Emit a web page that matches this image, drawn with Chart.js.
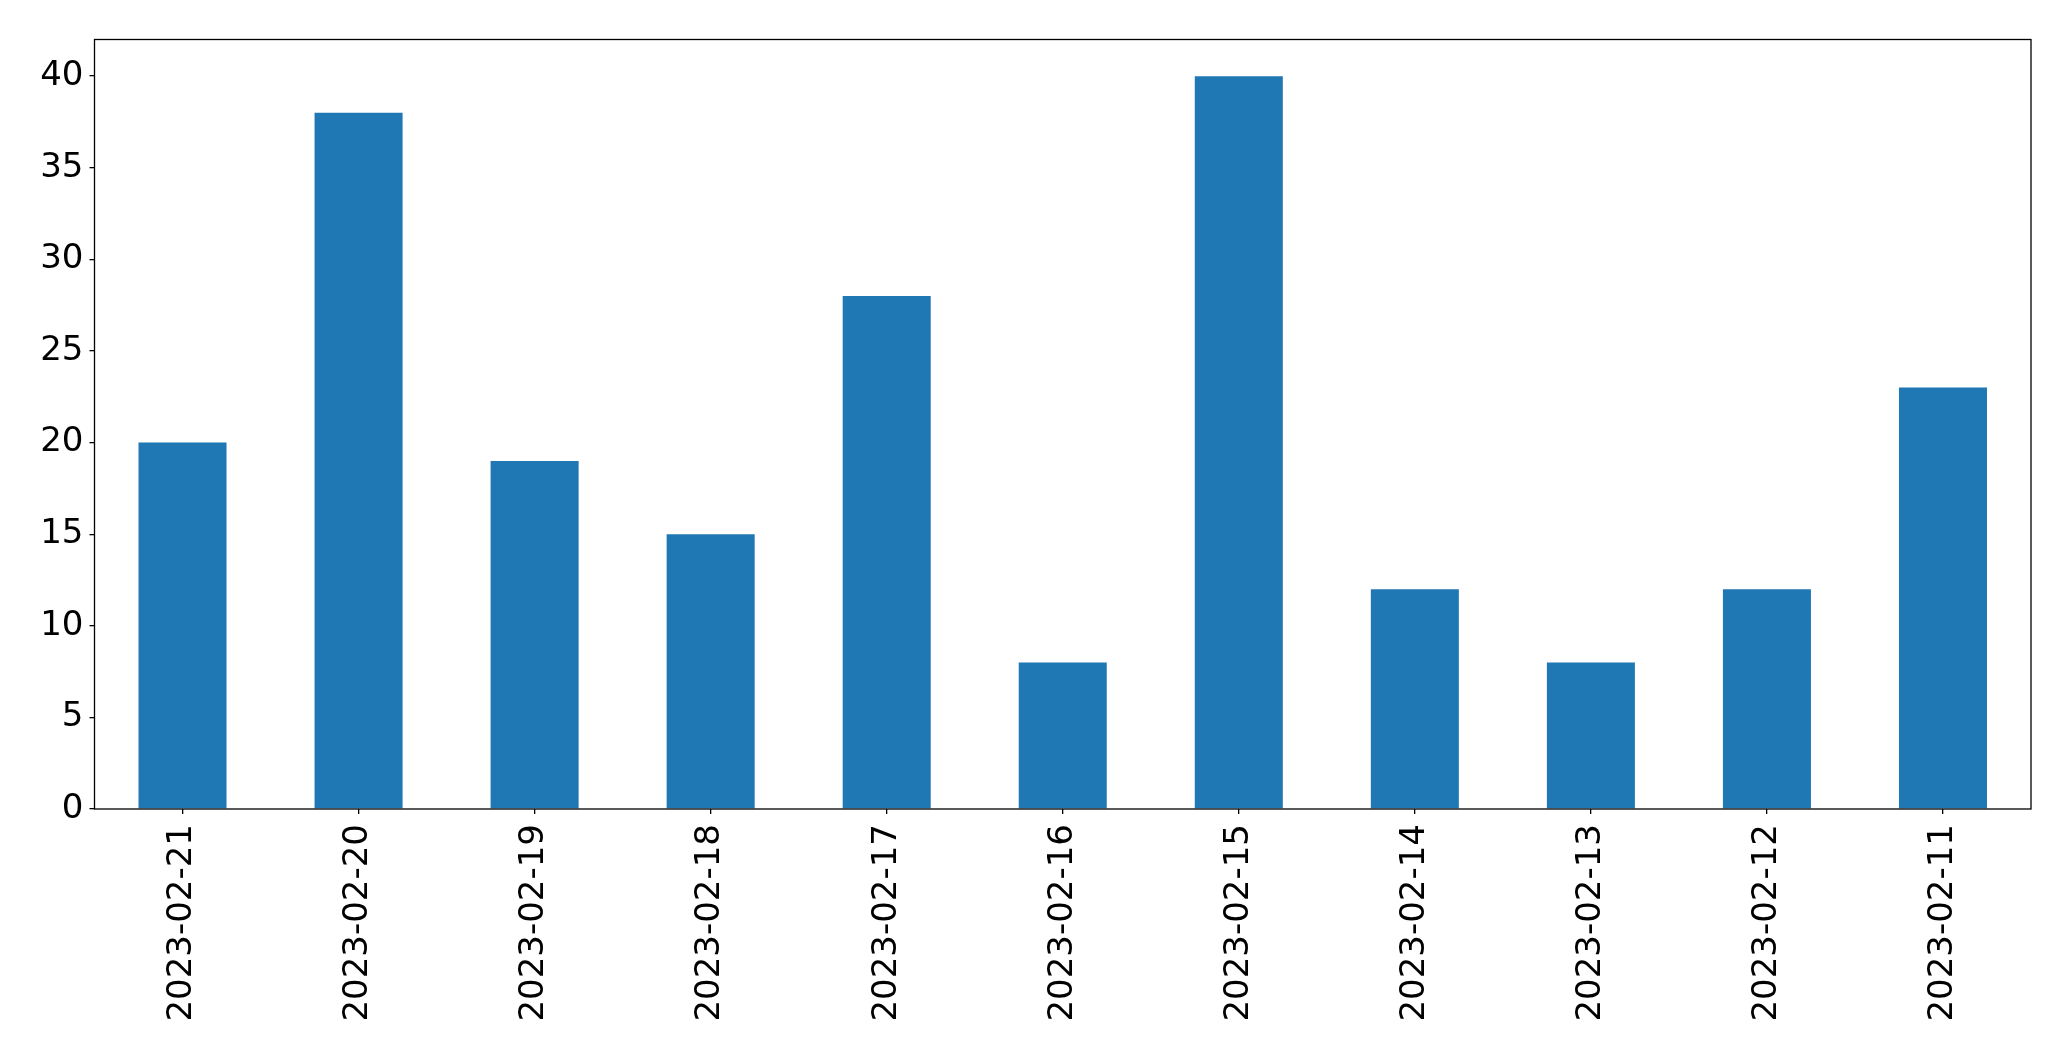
<!DOCTYPE html>
<html>
<head>
<meta charset="utf-8">
<script src="https://cdn.jsdelivr.net/npm/chart.js@4"></script>
<style>
html,body{margin:0;padding:0;background:#fff;}
#wrap{width:2071px;height:1061px;}
</style>
</head>
<body>
<div id="wrap"><canvas id="c" width="2071" height="1061"></canvas></div>
<script>
const categories = ["2023-02-21","2023-02-20","2023-02-19","2023-02-18","2023-02-17","2023-02-16","2023-02-15","2023-02-14","2023-02-13","2023-02-12","2023-02-11"];
const values = [20, 38, 19, 15, 28, 8, 40, 12, 8, 12, 23];
const yTicks = [0, 5, 10, 15, 20, 25, 30, 35, 40];

const frame = {
  id: 'frame',
  afterDraw(chart) {
    const a = chart.chartArea, ctx = chart.ctx;
    ctx.save();
    ctx.strokeStyle = '#000';
    ctx.lineWidth = 1.3;
    ctx.strokeRect(a.left, a.top, a.right - a.left, a.bottom - a.top);
    ctx.restore();
  }
};

new Chart(document.getElementById('c'), {
  type: 'bar',
  data: {
    labels: categories,
    datasets: [{
      data: values,
      backgroundColor: '#1f77b4',
      borderWidth: 0,
      categoryPercentage: 0.5,
      barPercentage: 1.0
    }]
  },
  options: {
    responsive: false,
    animation: false,
    devicePixelRatio: 1,
    layout: { padding: { left: 0, right: 40, top: 39.5, bottom: 0 } },
    plugins: { legend: { display: false }, tooltip: { enabled: false } },
    scales: {
      x: {
        offset: true,
        grid: { display: true, drawOnChartArea: false, drawTicks: true, tickLength: 5, color: '#000', lineWidth: 1.3, offset: false },
        border: { display: false },
        ticks: {
          color: '#000',
          font: { family: 'DejaVu Sans', size: 34 },
          minRotation: 90, maxRotation: 90, autoSkip: false, padding: 10
        },
        afterFit(s) { s.height = 252; }
      },
      y: {
        min: 0, max: 42,
        grid: { display: true, drawOnChartArea: false, drawTicks: true, tickLength: 5, color: '#000', lineWidth: 1.3 },
        border: { display: false },
        ticks: {
          color: '#000',
          font: { family: 'DejaVu Sans', size: 34 },
          stepSize: 5, padding: 6
        },
        afterBuildTicks(s) { s.ticks = yTicks.map(v => ({ value: v })); },
        afterFit(s) { s.width = 94.5; }
      }
    }
  },
  plugins: [frame]
});
</script>
</body>
</html>
